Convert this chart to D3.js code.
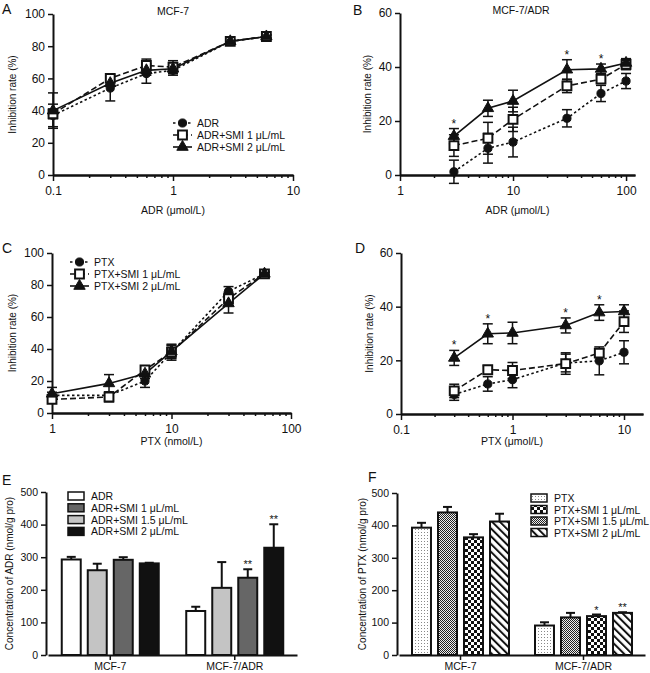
<!DOCTYPE html>
<html><head><meta charset="utf-8">
<script src="https://cdn.jsdelivr.net/npm/d3@7"></script>
<style>body{margin:0;background:#fff} text{font-family:"Liberation Sans",Arial,sans-serif;fill:#111}</style>
</head><body><svg id="c" width="650" height="673"></svg>
<script>
// ---------- DATA ----------
// Panel A (MCF-7, ADR)
const A_x = [0.1, 0.3, 0.6, 1, 3, 6];
const A_ADR = [37, 54, 63, 65, 83, 86];      const A_ADR_err = [7, 8, 6, 3, 1, 1];
const A_SMI1 = [38, 60, 68, 67, 83, 86];     const A_SMI1_err = [3, 2, 4, 4, 1, 1];
const A_SMI2 = [40, 57, 65, 66, 83, 86];     const A_SMI2_err = [11, 2, 3, 2, 1, 1];
const A_legend = ["ADR", "ADR+SMI 1 μL/mL", "ADR+SMI 2 μL/mL"];
// Panel B (MCF-7/ADR, ADR)
const B_x = [3, 6, 10, 30, 60, 100];
const B_ADR = [1.2, 9.9, 12.2, 21, 30.2, 34.8];   const B_ADR_err = [4.3, 5.5, 5.5, 3.2, 3, 2.8];
const B_SMI1 = [10.9, 13.6, 20.6, 33, 35.5, 41];  const B_SMI1_err = [4, 5.9, 4.5, 2.5, 1.5, 2];
const B_SMI2 = [14.4, 24.7, 27.4, 39, 39.3, 41.5];const B_SMI2_err = [2.8, 3, 4, 3.7, 1.8, 1.6];
const B_stars = [3, 30, 60];
// Panel C (MCF-7, PTX)
const C_x = [1, 3, 6, 10, 30, 60];
const C_PTX = [11, 11, 20, 38, 76, 87];       const C_PTX_err = [2, 2, 4, 4, 3, 1];
const C_SMI1 = [8.5, 10, 27, 38, 71.5, 87];   const C_SMI1_err = [2, 3, 2, 5, 4, 1];
const C_SMI2 = [12, 18.5, 24.5, 38.5, 68.5, 87]; const C_SMI2_err = [4, 5.5, 3, 4, 6, 1];
const C_legend = ["PTX", "PTX+SMI 1 μL/mL", "PTX+SMI 2 μL/mL"];
// Panel D (MCF-7/ADR, PTX)
const D_x = [0.3, 0.6, 1, 3, 6, 10];
const D_PTX = [7.3, 11.2, 12.8, 19, 19.8, 23];     const D_PTX_err = [2.2, 2.7, 3, 3.3, 5.2, 4.3];
const D_SMI1 = [8.6, 16.5, 16.2, 18.8, 22.7, 34.4];const D_SMI1_err = [2.5, 1.5, 3, 4, 1.5, 4];
const D_SMI2 = [20.9, 29.9, 30.2, 33, 37.8, 38.2]; const D_SMI2_err = [2.8, 3.7, 4, 2.8, 2.9, 2.5];
const D_stars = [0.3, 0.6, 3, 6];
// Panel E (ADR concentration)
const cellGroups = ["MCF-7", "MCF-7/ADR"];
const E_legend = ["ADR", "ADR+SMI 1 μL/mL", "ADR+SMI 1.5 μL/mL", "ADR+SMI 2 μL/mL"];
const E_barOrder = ["ADR", "ADR+SMI 1.5 μL/mL", "ADR+SMI 1 μL/mL", "ADR+SMI 2 μL/mL"];
const E_ADR = [293, 135];   const E_ADR_err = [8, 13];
const E_SMI1 = [292, 237];  const E_SMI1_err = [8, 26];
const E_SMI15 = [260, 206]; const E_SMI15_err = [20, 79];
const E_SMI2 = [281, 329];  const E_SMI2_err = [2, 72];
const E_stars = [["MCF-7/ADR", "ADR+SMI 1 μL/mL", "**"], ["MCF-7/ADR", "ADR+SMI 2 μL/mL", "**"]];
// Panel F (PTX concentration)
const F_legend = ["PTX", "PTX+SMI 1 μL/mL", "PTX+SMI 1.5 μL/mL", "PTX+SMI 2 μL/mL"];
const F_barOrder = ["PTX", "PTX+SMI 1.5 μL/mL", "PTX+SMI 1 μL/mL", "PTX+SMI 2 μL/mL"];
const F_PTX = [393, 91];    const F_PTX_err = [15, 10];
const F_SMI1 = [363, 120];  const F_SMI1_err = [10, 5];
const F_SMI15 = [440, 116]; const F_SMI15_err = [17, 14];
const F_SMI2 = [412, 130];  const F_SMI2_err = [24, 2];
const F_stars = [["MCF-7/ADR", "PTX+SMI 1 μL/mL", "*"], ["MCF-7/ADR", "PTX+SMI 2 μL/mL", "**"]];

// ---------- DRAW ----------
const svg = d3.select("#c");
const INK = "#111";
const defs = svg.append("defs");
let p = defs.append("pattern").attr("id","pDots").attr("patternUnits","userSpaceOnUse").attr("width",3).attr("height",3);
p.append("rect").attr("width",3).attr("height",3).attr("fill","#fff");
p.append("rect").attr("x",1).attr("y",1).attr("width",1).attr("height",1).attr("fill","#888");
p = defs.append("pattern").attr("id","pFine").attr("patternUnits","userSpaceOnUse").attr("width",2).attr("height",2);
p.append("rect").attr("width",2).attr("height",2).attr("fill","#eee");
p.append("rect").attr("width",1).attr("height",1).attr("fill","#222");
p.append("rect").attr("x",1).attr("y",1).attr("width",1).attr("height",1).attr("fill","#222");
p = defs.append("pattern").attr("id","pCheck").attr("patternUnits","userSpaceOnUse").attr("width",6).attr("height",6);
p.append("rect").attr("width",6).attr("height",6).attr("fill","#fff");
p.append("rect").attr("width",3).attr("height",3).attr("fill","#111");
p.append("rect").attr("x",3).attr("y",3).attr("width",3).attr("height",3).attr("fill","#111");
p = defs.append("pattern").attr("id","pHatch").attr("patternUnits","userSpaceOnUse").attr("width",5.5).attr("height",5.5).attr("patternTransform","rotate(-45)");
p.append("rect").attr("width",5.5).attr("height",5.5).attr("fill","#fff");
p.append("line").attr("x1",1).attr("x2",1).attr("y1",0).attr("y2",5.5).attr("stroke","#111").attr("stroke-width",2);

function fmtTick(d){ return d < 1 ? String(d) : d3.format("d")(d); }

function styleAxis(sel, fs){
  sel.select(".domain").attr("stroke", INK).attr("stroke-width", 2);
  sel.selectAll(".tick line").attr("stroke", INK).attr("stroke-width", 1.5);
  sel.selectAll(".tick text").attr("fill", INK).style("font-size", fs + "px").style("font-family", '"Liberation Sans",Arial,sans-serif');
}

const seriesStyle = [
  {sym: d3.symbolCircle, size: 52, fill: INK, dash: "2.5,2.5"},
  {sym: d3.symbolSquare, size: 78, fill: "#fff", dash: "6,3"},
  {sym: d3.symbolTriangle, size: 56, fill: INK, dash: null}
];

function linePanel(c){
  const g = svg.append("g");
  const x = d3.scaleLog().domain(c.xDomain).range([c.left, c.right]);
  const y = d3.scaleLinear().domain([0, c.yMax]).range([c.bottom, c.top]);
  const ya = g.append("g").attr("transform", `translate(${c.left},0)`)
    .call(d3.axisLeft(y).tickValues(d3.range(0, c.yMax + 1, c.yStep)).tickSize(5).tickSizeOuter(0).tickPadding(3));
  styleAxis(ya, 12);
  const minor = [];
  const lo = Math.floor(Math.log10(c.xDomain[0])), hi = Math.ceil(Math.log10(c.xDomain[1]));
  for (let k = lo; k < hi; k++) for (let m = 2; m <= 9; m++) {
    const v = m * Math.pow(10, k);
    if (v > c.xDomain[0] && v < c.xDomain[1]) minor.push(+v.toPrecision(3));
  }
  const xm = g.append("g").attr("transform", `translate(0,${c.bottom})`)
    .call(d3.axisBottom(x).tickValues(minor).tickFormat("").tickSize(3).tickSizeOuter(0));
  styleAxis(xm, 12);
  const xa = g.append("g").attr("transform", `translate(0,${c.bottom})`)
    .call(d3.axisBottom(x).tickValues(c.xMajor).tickFormat(fmtTick).tickSize(6).tickSizeOuter(0).tickPadding(5));
  styleAxis(xa, 12);
  g.append("text").attr("x", (c.left + c.right) / 2 + (c.xLabelDx||0)).attr("y", c.xLabelY).attr("text-anchor","middle").style("font-size","10.5px").text(c.xLabel);
  g.append("text").attr("transform", `translate(${c.yLabelX},${(c.top + c.bottom) / 2}) rotate(-90)`).attr("text-anchor","middle").style("font-size","10px").text("Inhibition rate (%)");
  g.append("text").attr("x", c.letter[0]).attr("y", c.letter[1]).style("font-size","14px").text(c.letter[2]);
  if (c.title) g.append("text").attr("x", c.title[0]).attr("y", c.title[1]).attr("text-anchor","middle").style("font-size","10.5px").text(c.title[2]);
  const data = c.series.map(s => c.xs.map((xv, i) => ({x: xv, v: s[0][i], e: s[1][i]})));
  const line = d3.line().x(d => x(d.x)).y(d => y(d.v));
  data.forEach((pts, si) => {
    g.append("path").datum(pts).attr("d", line).attr("fill","none").attr("stroke", INK).attr("stroke-width", 1.6)
      .attr("stroke-dasharray", seriesStyle[si].dash);
  });
  data.forEach(pts => {
    pts.forEach(d => {
      const cx = x(d.x);
      g.append("line").attr("x1",cx).attr("x2",cx).attr("y1",y(d.v - d.e)).attr("y2",y(d.v + d.e)).attr("stroke",INK).attr("stroke-width",1.5);
      [d.v - d.e, d.v + d.e].forEach(t => g.append("line").attr("x1",cx-5).attr("x2",cx+5).attr("y1",y(t)).attr("y2",y(t)).attr("stroke",INK).attr("stroke-width",1.5));
    });
  });
  data.forEach((pts, si) => {
    const st = seriesStyle[si];
    g.selectAll(null).data(pts).enter().append("path")
      .attr("d", d3.symbol().type(st.sym).size(st.size))
      .attr("transform", d => `translate(${x(d.x)},${y(d.v)})`)
      .attr("fill", st.fill).attr("stroke", INK).attr("stroke-width", si === 1 ? 2 : 1);
  });
  if (c.stars) {
    const top = c.series[2];
    c.stars.forEach(sx => {
      const i = c.xs.indexOf(sx);
      g.append("text").attr("x", x(sx)).attr("y", y(top[0][i] + top[1][i]) - 1).attr("text-anchor","middle").style("font-size","12px").text("*");
    });
  }
  if (c.legend) {
    c.legend.names.forEach((n, i) => {
      const ly = c.legend.y + i * c.legend.dy, lx = c.legend.x;
      g.append("line").attr("x1", lx).attr("x2", lx + 19).attr("y1", ly).attr("y2", ly).attr("stroke", INK).attr("stroke-width", 1.6).attr("stroke-dasharray", seriesStyle[i].dash);
      g.append("path").attr("d", d3.symbol().type(seriesStyle[i].sym).size(seriesStyle[i].size)).attr("transform", `translate(${lx + 9.5},${ly})`)
        .attr("fill", seriesStyle[i].fill).attr("stroke", INK).attr("stroke-width", i === 1 ? 2 : 1);
      g.append("text").attr("x", lx + 24).attr("y", ly + 4).style("font-size","10.5px").text(n);
    });
  }
}

linePanel({left:53, right:293, bottom:175, top:14, xDomain:[0.1,10], xMajor:[0.1,1,10], yMax:100, yStep:20,
  xs:A_x, series:[[A_ADR,A_ADR_err],[A_SMI1,A_SMI1_err],[A_SMI2,A_SMI2_err]],
  xLabel:"ADR (μmol/L)", xLabelY:214, yLabelX:16, letter:[2,14,"A"], title:[173,15,"MCF-7"],
  legend:{names:A_legend, x:173, y:123, dy:12}});
linePanel({left:400, right:635, bottom:175, top:13, xDomain:[1,120], xMajor:[1,10,100], yMax:60, yStep:20,
  xs:B_x, series:[[B_ADR,B_ADR_err],[B_SMI1,B_SMI1_err],[B_SMI2,B_SMI2_err]], stars:B_stars,
  xLabel:"ADR (μmol/L)", xLabelY:214, yLabelX:371, letter:[353,15,"B"], title:[521,14,"MCF-7/ADR"]});
linePanel({left:52, right:291, bottom:413, top:253, xDomain:[1,100], xMajor:[1,10,100], yMax:100, yStep:20,
  xs:C_x, series:[[C_PTX,C_PTX_err],[C_SMI1,C_SMI1_err],[C_SMI2,C_SMI2_err]],
  xLabel:"PTX (nmol/L)", xLabelY:445, yLabelX:16, letter:[2,253,"C"],
  legend:{names:C_legend, x:70, y:262, dy:12}});
linePanel({left:401, right:643, bottom:414, top:253, xDomain:[0.1,14.8], xMajor:[0.1,1,10], yMax:60, yStep:20,
  xs:D_x, series:[[D_PTX,D_PTX_err],[D_SMI1,D_SMI1_err],[D_SMI2,D_SMI2_err]], stars:D_stars,
  xLabel:"PTX (μmol/L)", xLabelY:445, xLabelDx:-10, yLabelX:373, letter:[355,253,"D"]});

function barPanel(c){
  const g = svg.append("g");
  const y = d3.scaleLinear().domain([0, 500]).range([c.bottom, c.top]);
  const xg = d3.scaleBand().domain(cellGroups).range([c.left + 2, c.right]);
  const ya = g.append("g").attr("transform", `translate(${c.left},0)`)
    .call(d3.axisLeft(y).tickValues(d3.range(0, 501, 100)).tickSize(5).tickSizeOuter(0).tickPadding(3));
  styleAxis(ya, 10.5);
  const xa = g.append("g").attr("transform", `translate(0,${c.bottom})`)
    .call(d3.axisBottom(xg).tickSize(5).tickSizeOuter(0).tickPadding(3));
  styleAxis(xa, 10.5);
  g.append("text").attr("transform", `translate(${c.yLabelX},${(c.top + c.bottom) / 2}) rotate(-90)`).attr("text-anchor","middle").style("font-size","10px").text(c.yLabel);
  g.append("text").attr("x", c.letter[0]).attr("y", c.letter[1]).style("font-size","14px").text(c.letter[2]);
  cellGroups.forEach((grp, gi) => {
    const cx = xg(grp) + xg.bandwidth() / 2;
    const xb = d3.scaleBand().domain(c.order).range([cx - 48.5, cx + 48.5]).paddingInner(0.27);
    c.order.forEach(name => {
      const s = c.values[name];
      const v = s[0][gi], e = s[1][gi];
      const bx = xb(name), bw = xb.bandwidth();
      g.append("line").attr("x1", bx + bw/2).attr("x2", bx + bw/2).attr("y1", y(v)).attr("y2", y(v + e)).attr("stroke", INK).attr("stroke-width", 2);
      g.append("line").attr("x1", bx + bw/2 - 4.5).attr("x2", bx + bw/2 + 4.5).attr("y1", y(v + e)).attr("y2", y(v + e)).attr("stroke", INK).attr("stroke-width", 2);
      g.append("rect").attr("x", bx).attr("y", y(v)).attr("width", bw).attr("height", y(0) - y(v))
        .attr("fill", c.fills[name]).attr("stroke", INK).attr("stroke-width", 2);
    });
    c.stars.filter(s => s[0] === grp).forEach(s => {
      const sv = c.values[s[1]];
      g.append("text").attr("x", xb(s[1]) + xb.bandwidth()/2).attr("y", y(sv[0][gi] + sv[1][gi]) - 1).attr("text-anchor","middle").style("font-size","11px").text(s[2]);
    });
  });
  c.legendNames.forEach((n, i) => {
    const ly = c.legend.y + i * c.legend.dy;
    g.append("rect").attr("x", c.legend.x).attr("y", ly - 4).attr("width", 16).attr("height", 8).attr("fill", c.fills[n]).attr("stroke", INK).attr("stroke-width", 1.5);
    g.append("text").attr("x", c.legend.x + 23).attr("y", ly + 4).style("font-size","10.5px").text(n);
  });
}

barPanel({left:46, right:297, bottom:655, top:492, yLabelX:13, yLabel:"Concentration of ADR (nmol/g pro)", letter:[2,485,"E"],
  order:E_barOrder, legendNames:E_legend,
  values:{"ADR":[E_ADR,E_ADR_err], "ADR+SMI 1 μL/mL":[E_SMI1,E_SMI1_err], "ADR+SMI 1.5 μL/mL":[E_SMI15,E_SMI15_err], "ADR+SMI 2 μL/mL":[E_SMI2,E_SMI2_err]},
  fills:{"ADR":"#fff", "ADR+SMI 1 μL/mL":"#666", "ADR+SMI 1.5 μL/mL":"#c4c4c4", "ADR+SMI 2 μL/mL":"#111"},
  stars:E_stars, legend:{x:68, y:496, dy:11.8}});
barPanel({left:397, right:645, bottom:655, top:493, yLabelX:366, yLabel:"Concentration of PTX (nmol/g pro)", letter:[368,482,"F"],
  order:F_barOrder, legendNames:F_legend,
  values:{"PTX":[F_PTX,F_PTX_err], "PTX+SMI 1 μL/mL":[F_SMI1,F_SMI1_err], "PTX+SMI 1.5 μL/mL":[F_SMI15,F_SMI15_err], "PTX+SMI 2 μL/mL":[F_SMI2,F_SMI2_err]},
  fills:{"PTX":"url(#pDots)", "PTX+SMI 1 μL/mL":"url(#pCheck)", "PTX+SMI 1.5 μL/mL":"url(#pFine)", "PTX+SMI 2 μL/mL":"url(#pHatch)"},
  stars:F_stars, legend:{x:531, y:498, dy:11.5}});
</script></body></html>
